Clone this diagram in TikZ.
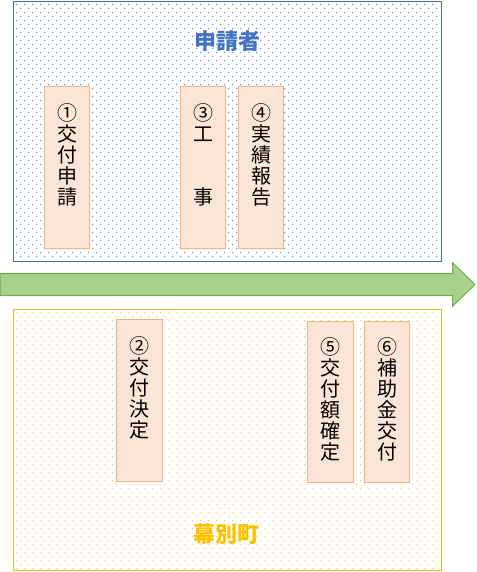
\documentclass[tikz,border=0pt]{standalone}
\usepackage{fontspec}
\setmainfont{Noto Sans CJK JP}
\definecolor{bluebord}{HTML}{41719C}
\definecolor{bluedot}{HTML}{4A90DA}
\definecolor{bluetitle}{HTML}{4472C4}
\definecolor{yelbord}{HTML}{F2B818}
\definecolor{yeldot}{HTML}{FFCC33}
\definecolor{yeltitle}{HTML}{FFC000}
\definecolor{stepfill}{HTML}{FBE5D6}
\definecolor{stepbord}{HTML}{F4B183}
\definecolor{arrfill}{HTML}{A9D18E}
\definecolor{arrbord}{HTML}{70AD47}
\tikzset{
  panel/.style={line width=1.1pt, inner sep=0pt},
  stepbox/.style={draw=stepbord, fill=stepfill, line width=1pt, inner sep=0pt, minimum width=45pt, minimum height=161.6pt},
  steptext/.style={anchor=north, inner sep=0pt, align=center, font=\fontsize{20}{21}\selectfont, text=black},
  paneltitle/.style={inner sep=0pt, font=\fontsize{22}{26}\selectfont\bfseries},
}
\begin{document}
\begin{tikzpicture}[x=1pt,y=-1pt]
\useasboundingbox (0,0) rectangle (476,572);
% dot fills
\fill[bluedot] \foreach \j [evaluate=\j as \yy using {4+4*\j}, evaluate=\j as \off using {16+4*mod(\j,2)}] in {0,...,63} {
   \foreach \i in {0,...,52} { ({\off+8*\i},\yy) rectangle +(1.2,1.2) } };
\fill[yeldot] \foreach \j [evaluate=\j as \yy using {312+4*\j}, evaluate=\j as \off using {16+4*mod(\j,2)}] in {0,...,64} {
   \foreach \i in {0,...,52} { ({\off+8*\i},\yy) rectangle +(1.2,1.2) } };
% panels
\node[panel, draw=bluebord, minimum width=428pt, minimum height=260pt] (appl) at (227.5,131.5) {};
\node[panel, draw=yelbord, minimum width=428pt, minimum height=261pt] (town) at (227.5,440) {};
\node[paneltitle, text=bluetitle] (applt) at (227,41) {申請者};
\node[paneltitle, text=yeltitle] (townt) at (226,534) {幕別町};
% arrow
\coordinate (a0) at (0,273.5);
\coordinate (a1) at (452.5,273.5);
\coordinate (a2) at (452.5,262.7);
\coordinate (tip) at (475,284.5);
\coordinate (a4) at (452.5,306.3);
\coordinate (a5) at (452.5,295.5);
\coordinate (a6) at (0,295.5);
\draw[draw=arrbord, fill=arrfill, line width=1pt, line join=miter] (a0) -- (a1) -- (a2) -- (tip) -- (a4) -- (a5) -- (a6) -- cycle;
% step boxes
\node[stepbox] (s1) at (67,167.5) {};
\node[stepbox] (s3) at (203,167.5) {};
\node[stepbox] (s4) at (261,167.5) {};
\node[stepbox, minimum width=46pt] (s2) at (139.5,400.5) {};
\node[stepbox, minimum width=46pt] (s5) at (330.5,402) {};
\node[stepbox] (s6) at (387,402) {};
\node[steptext] (t1) at ([yshift=-17pt]s1.north) {①\\交\\付\\申\\請};
\node[steptext] (t3) at ([yshift=-17pt]s3.north) {③\\工\\\mbox{}\\\mbox{}\\事};
\node[steptext] (t4) at ([yshift=-17pt]s4.north) {④\\実\\績\\報\\告};
\node[steptext] (t2) at ([yshift=-17pt]s2.north) {②\\交\\付\\決\\定};
\node[steptext] (t5) at ([yshift=-17pt]s5.north) {⑤\\交\\付\\額\\確\\定};
\node[steptext] (t6) at ([yshift=-17pt]s6.north) {⑥\\補\\助\\金\\交\\付};
\end{tikzpicture}
\end{document}
